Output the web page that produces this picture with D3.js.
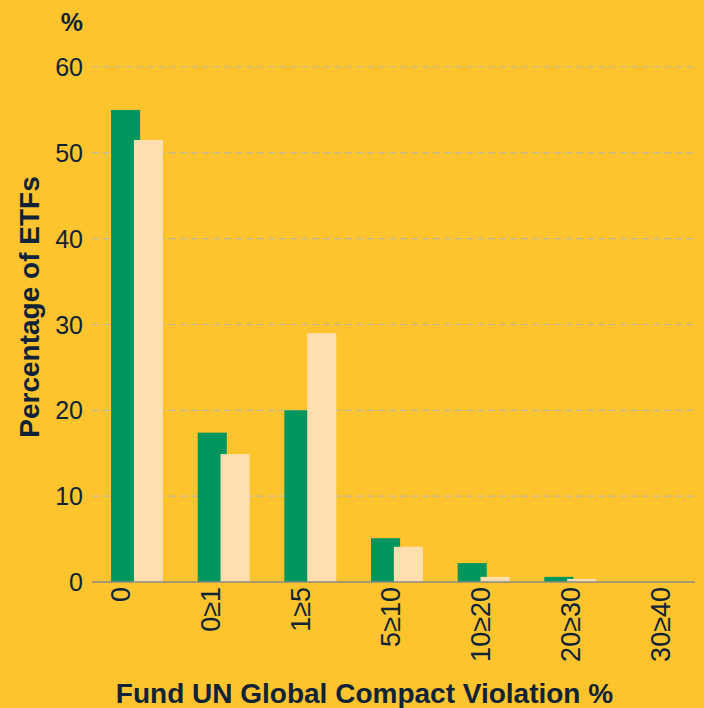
<!DOCTYPE html>
<html>
<head>
<meta charset="utf-8">
<script src="https://cdn.jsdelivr.net/npm/d3@7"></script>
<style>
  html, body { margin: 0; padding: 0; background: #FEC42D; }
  svg { display: block; }
  text { font-family: "Liberation Sans", Arial, sans-serif; fill: #0E2338; }
</style>
</head>
<body>
<svg id="chart" width="704" height="708"></svg>
<script>
// Share of ETFs by fund UN Global Compact violation bucket
const categories = ["0", "0≥1", "1≥5", "5≥10", "10≥20", "20≥30", "30≥40"];
const seriesA = [55.0, 17.4, 20.0, 5.1, 2.2, 0.6, 0];   // green
const seriesB = [51.5, 14.9, 29.0, 4.1, 0.6, 0.35, 0];  // cream
const yTicks = [0, 10, 20, 30, 40, 50, 60];

const W = 704, H = 708;
const plotRight = 694, plotTop = 67, plotBottom = 582;

const svg = d3.select("#chart");
svg.append("rect").attr("width", W).attr("height", H).attr("fill", "#FEC42D");

const y = d3.scaleLinear().domain([0, 60]).range([plotBottom, plotTop]);

const x = d3.scaleBand()
  .domain(categories)
  .range([93.7, 700.3])
  .paddingInner(0.4)
  .paddingOuter(0.2);

// label positions along the axis
const xl = d3.scalePoint().domain(categories).range([120, 660]);

// dashed gridlines
svg.append("g")
  .selectAll("line")
  .data(yTicks.filter(d => d > 0))
  .join("line")
  .attr("x1", 92).attr("x2", plotRight)
  .attr("y1", d => y(d)).attr("y2", d => y(d))
  .attr("stroke", "#BDB6A2")
  .attr("stroke-width", 1.2)
  .attr("stroke-dasharray", "7,4");

// y tick labels
svg.append("g")
  .selectAll("text")
  .data(yTicks)
  .join("text")
  .attr("x", 83)
  .attr("y", d => y(d))
  .attr("dy", "0.36em")
  .attr("text-anchor", "end")
  .attr("font-size", 25)
  .text(d => d);

// unit label
svg.append("text")
  .attr("x", 83).attr("y", 31)
  .attr("text-anchor", "end")
  .attr("font-size", 25)
  .attr("font-weight", "bold")
  .text("%");

const bw = x.bandwidth();
const barW = bw * 0.56;
const offset = bw * 0.44;

// green series
svg.append("g")
  .selectAll("rect")
  .data(categories.map((c, i) => ({ c, v: seriesA[i] })))
  .join("rect")
  .attr("x", d => x(d.c))
  .attr("width", barW)
  .attr("y", d => y(d.v))
  .attr("height", d => y(0) - y(d.v))
  .attr("fill", "#00965E");

// cream series
svg.append("g")
  .selectAll("rect")
  .data(categories.map((c, i) => ({ c, v: seriesB[i] })))
  .join("rect")
  .attr("x", d => x(d.c) + offset)
  .attr("width", barW)
  .attr("y", d => y(d.v))
  .attr("height", d => y(0) - y(d.v))
  .attr("fill", "#FFDEAF");

// baseline
svg.append("line")
  .attr("x1", 92).attr("x2", 695)
  .attr("y1", y(0)).attr("y2", y(0))
  .attr("stroke", "#8C8A84")
  .attr("stroke-width", 1.5);

// category labels, rotated
const fsx = 27;
svg.append("g")
  .selectAll("text")
  .data(categories)
  .join("text")
  .attr("transform", d => `translate(${xl(d) + fsx * 0.36},587) rotate(-90)`)
  .attr("text-anchor", "end")
  .attr("font-size", fsx)
  .text(d => d);

// axis titles
svg.append("text")
  .attr("x", 364.5).attr("y", 703)
  .attr("text-anchor", "middle")
  .attr("font-size", 28)
  .attr("font-weight", "bold")
  .text("Fund UN Global Compact Violation %");

svg.append("text")
  .attr("transform", "translate(39,307) rotate(-90)")
  .attr("text-anchor", "middle")
  .attr("font-size", 28)
  .attr("font-weight", "bold")
  .text("Percentage of ETFs");
</script>
</body>
</html>
